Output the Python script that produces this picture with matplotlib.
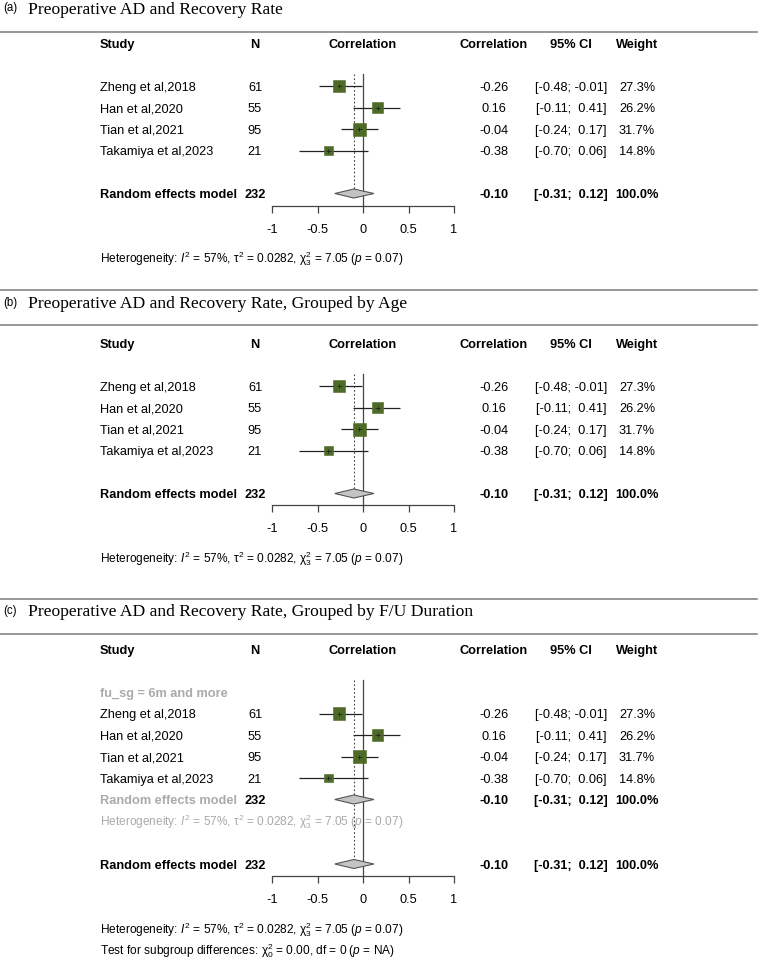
import matplotlib
matplotlib.use("Agg")
import matplotlib.pyplot as plt
import matplotlib.transforms as mtransforms
from matplotlib.lines import Line2D
import numpy as np

plt.rcParams['font.family'] = ['Liberation Sans', 'DejaVu Sans']
plt.rcParams['mathtext.fontset'] = 'custom'
plt.rcParams['mathtext.rm'] = 'Liberation Sans'
plt.rcParams['mathtext.it'] = 'Liberation Sans:italic'
plt.rcParams['mathtext.bf'] = 'Liberation Sans:bold'

# ---------------- data ----------------
studies = ["Zheng et al,2018", "Han et al,2020", "Tian et al,2021", "Takamiya et al,2023"]
n_obs = [61, 55, 95, 21]
cor = [-0.26, 0.16, -0.04, -0.38]
ci_lo = [-0.48, -0.11, -0.24, -0.70]
ci_hi = [-0.01, 0.41, 0.17, 0.06]
weights = [27.3, 26.2, 31.7, 14.8]
pooled = -0.10
pooled_lo = -0.31
pooled_hi = 0.12
pooled_n = 232
pooled_w = 100.0
xticks = [-1, -0.5, 0, 0.5, 1]
xticklabels = ["-1", "-0.5", "0", "0.5", "1"]
titles = ["Preoperative AD and Recovery Rate",
          "Preoperative AD and Recovery Rate, Grouped by Age",
          "Preoperative AD and Recovery Rate, Grouped by F/U Duration"]
panel_tags = ["(a)", "(b)", "(c)"]
subgroup_label = "fu_sg = 6m and more"
het_text = r"Heterogeneity: $I^2$ = 57%, τ$^2$ = 0.0282, χ$^2_3$ = 7.05 ($p$ = 0.07)"
test_text = r"Test for subgroup differences: χ$^2_0$ = 0.00, df = 0 ($p$ = NA)"

# ---------------- layout ----------------
W, H = 759, 961
fig = plt.figure(figsize=(W / 100, H / 100), dpi=100)
ROW = 21.5
FS = 9.2
FS_HET = 8.6
BASE_OFF = 4.6 / ROW          # baseline offset so cap-height is centred on the row
X_STUDY, X_N, X_COR, X_CI, X_W = 100, 255, 494, 571, 637
GREEN = "#4d6b26"
GREY_TXT = "#aaaaaa"
LINE_C = "#444444"

def fx(px):
    return px / W

def fy(py):
    return 1 - py / H

def hline(py):
    fig.add_artist(Line2D([0, fx(757)], [fy(py), fy(py)], transform=fig.transFigure,
                          color="#7a7a7a", lw=1.1))

def fmt_ci(lo, hi):
    return f"[{lo:5.2f}; {hi:5.2f}]"

def panel(tag, title, title_y, header_y, axis_y, grouped, lines_y):
    for ly in lines_y:
        hline(ly)
    fig.text(fx(3), fy(title_y + 3.0), tag, fontsize=8.3, va="baseline", ha="left")
    fig.text(fx(28), fy(title_y + 5.5), title, fontsize=12.6, va="baseline", ha="left",
             family="Liberation Serif")

    top = header_y - 0.5 * ROW
    ax = fig.add_axes([fx(272), fy(axis_y), fx(454) - fx(272), (axis_y - top) / H])
    ybot = (axis_y - header_y) / ROW
    ax.set_xlim(-1, 1)
    ax.set_ylim(ybot, -0.5)
    for s in ["top", "left", "right"]:
        ax.spines[s].set_visible(False)
    ax.spines["bottom"].set_color(LINE_C)
    ax.spines["bottom"].set_linewidth(0.9)
    ax.set_yticks([])
    ax.set_xticks(xticks)
    ax.set_xticklabels(xticklabels)
    ax.tick_params(axis="x", direction="out", length=4.7, width=0.9, color=LINE_C,
                   pad=8.5, labelsize=FS)
    ax.patch.set_alpha(0)

    tr = mtransforms.blended_transform_factory(fig.transFigure, ax.transData)

    def txt(px, r, s, ha="left", **kw):
        ax.text(fx(px), r + BASE_OFF, s, transform=tr, ha=ha, va="baseline",
                fontsize=kw.pop("fontsize", FS), clip_on=False, **kw)

    # header
    txt(X_STUDY, 0, "Study", weight="bold")
    txt(X_N, 0, "N", ha="center", weight="bold")
    txt(363, 0, "Correlation", ha="center", weight="bold")
    txt(X_COR, 0, "Correlation", ha="center", weight="bold")
    txt(X_CI, 0, "95% CI", ha="center", weight="bold")
    txt(X_W, 0, "Weight", ha="center", weight="bold")

    if grouped:
        txt(X_STUDY, 2, subgroup_label, weight="bold", color=GREY_TXT)
        first = 3
    else:
        first = 2
    rows = np.arange(first, first + len(studies))
    for r, st, nn, c, lo, hi, w in zip(rows, studies, n_obs, cor, ci_lo, ci_hi, weights):
        txt(X_STUDY, r, st)
        txt(X_N, r, str(nn), ha="center")
        txt(X_COR, r, f"{c:.2f}", ha="center")
        txt(X_CI, r, fmt_ci(lo, hi), ha="center")
        txt(X_W, r, f"{w:.1f}%", ha="center")
    # CI lines
    ax.hlines(rows, ci_lo, ci_hi, color="#222222", lw=0.9, zorder=3)
    side_px = 13 * np.sqrt(np.array(weights) / max(weights))
    ax.scatter(cor, rows, marker="s", s=(side_px * 0.72) ** 2, color=GREEN,
               edgecolors=GREEN, linewidths=0.4, zorder=4)
    ax.scatter(cor, rows, marker="|", s=12, color="#222222", linewidths=0.6, zorder=5)
    ax.hlines(rows, np.array(cor) - 0.03, np.array(cor) + 0.03, color="#222222", lw=0.6, zorder=5)

    def diamond(r, est, lo, hi):
        h = 0.21
        ax.fill([lo, est, hi, est], [r, r - h, r, r + h], facecolor="#c4c4c4",
                edgecolor="#555555", lw=0.8, zorder=4)

    last = rows[-1]
    if grouped:
        sub_r = last + 1
        txt(X_STUDY, sub_r, "Random effects model", weight="bold", color=GREY_TXT)
        txt(X_N + 0, sub_r, str(pooled_n), ha="center", weight="bold")
        txt(X_COR, sub_r, f"{pooled:.2f}", ha="center", weight="bold")
        txt(X_CI, sub_r, fmt_ci(pooled_lo, pooled_hi), ha="center", weight="bold")
        txt(X_W, sub_r, f"{pooled_w:.1f}%", ha="center", weight="bold")
        diamond(sub_r, pooled, pooled_lo, pooled_hi)
        txt(X_STUDY, sub_r + 1, het_text, color=GREY_TXT, fontsize=FS_HET)
        model_r = sub_r + 3
    else:
        model_r = last + 2
    txt(X_STUDY, model_r, "Random effects model", weight="bold")
    txt(X_N, model_r, str(pooled_n), ha="center", weight="bold")
    txt(X_COR, model_r, f"{pooled:.2f}", ha="center", weight="bold")
    txt(X_CI, model_r, fmt_ci(pooled_lo, pooled_hi), ha="center", weight="bold")
    txt(X_W, model_r, f"{pooled_w:.1f}%", ha="center", weight="bold")
    diamond(model_r, pooled, pooled_lo, pooled_hi)

    vtop = first - (1.55 if grouped else 0.55)
    ax.plot([0, 0], [vtop, ybot], color=LINE_C, lw=0.9, zorder=2, clip_on=False)
    ax.plot([pooled, pooled], [vtop, model_r], color=LINE_C, lw=0.8, ls=(0, (1.5, 2)),
            zorder=2, clip_on=False)

    txt(X_STUDY, model_r + 3, het_text, fontsize=FS_HET)
    if grouped:
        txt(X_STUDY, model_r + 4, test_text, fontsize=FS_HET)
    return ax

panel(panel_tags[0], titles[0], 8.5, 43, 206, False, [32])
panel(panel_tags[1], titles[1], 303, 343, 505, False, [290, 325])
panel(panel_tags[2], titles[2], 611, 649, 876, True, [599, 634])

fig.savefig("out.png", dpi=100)
